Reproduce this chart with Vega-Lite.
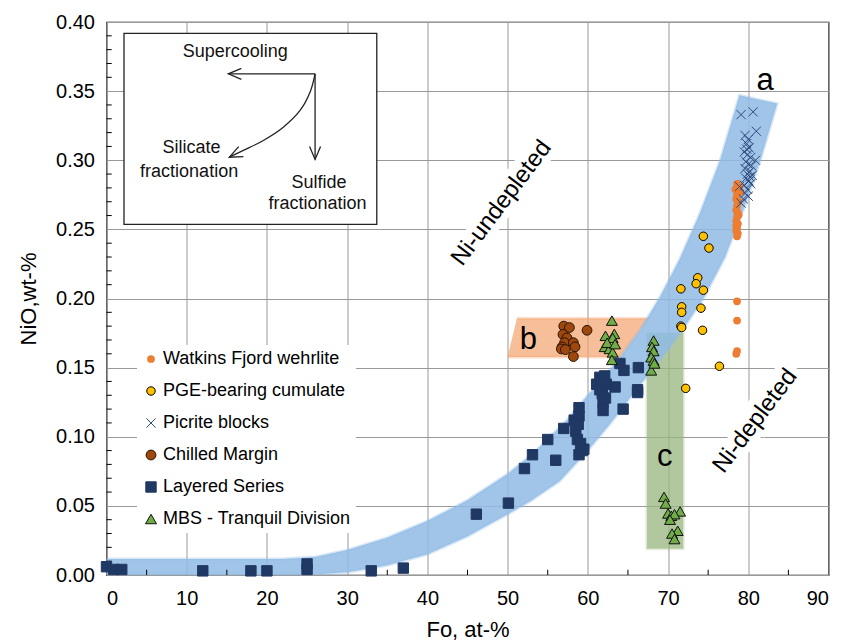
{
  "$schema": "https://vega.github.io/schema/vega-lite/v6.json",
  "width": 722,
  "height": 553,
  "autosize": {"type": "none"},
  "padding": {"left": 106.5, "top": 22, "right": 14.5, "bottom": 65},
  "background": "white",
  "config": {
    "view": {"stroke": "#000000", "strokeWidth": 1.2},
    "axis": {"domain": false, "ticks": false, "grid": true, "gridColor": "#999999", "gridWidth": 1,
      "labelFont": "Liberation Sans", "labelFontSize": 20, "labelColor": "#000000",
      "titleFont": "Liberation Sans", "titleFontSize": 22, "titleFontWeight": "normal", "titleColor": "#000000"},
    "axisX": {"labelPadding": 13, "titlePadding": 11},
    "axisY": {"labelPadding": 12, "titlePadding": 15},
    "legend": {"orient": "none", "legendX": 30.5, "legendY": 323, "fillColor": "white", "padding": 5,
      "labelFont": "Liberation Sans", "labelFontSize": 18, "labelColor": "#000000", "rowPadding": 14, "labelOffset": 3, "labelLimit": 0, "symbolStrokeWidth": 1}
  },
  "layer": [
    {
      "data": {"values": [
        {"i": 1, "x": 51.15, "y": 0.1855}, {"i": 2, "x": 67.5, "y": 0.1855},
        {"i": 3, "x": 64.0, "y": 0.1577}, {"i": 4, "x": 50.0, "y": 0.1577}
      ]},
      "mark": {"type": "line", "fill": "#f4a46e", "fillOpacity": 0.7, "stroke": "#f4a46e", "strokeOpacity": 0.35, "strokeWidth": 3},
      "encoding": {
        "x": {"field": "x", "type": "quantitative", "scale": {"domain": [0, 90], "nice": false}, "axis": {"values": [0,10,20,30,40,50,60,70,80,90]}, "title": "Fo, at-%"},
        "y": {"field": "y", "type": "quantitative", "scale": {"domain": [0, 0.4], "nice": false}, "axis": {"values": [0,0.05,0.1,0.15,0.2,0.25,0.3,0.35,0.4], "format": ".2f"}, "title": "NiO,wt-%"},
        "order": {"field": "i", "type": "quantitative"}
      }
    },
    {
      "data": {"values": [{"x": 67.35, "x2": 71.9, "y": 0.019, "y2": 0.175}]},
      "mark": {"type": "rect", "fill": "#98b67f", "opacity": 0.75, "stroke": "#98b67f", "strokeOpacity": 0.3, "strokeWidth": 3},
      "encoding": {
        "x": {"field": "x", "type": "quantitative"}, "x2": {"field": "x2"},
        "y": {"field": "y", "type": "quantitative"}, "y2": {"field": "y2"}
      }
    },
    {
      "data": {"values": [
        {"i": 1, "x": 0, "y": 0.0115}, {"i": 2, "x": 22, "y": 0.0115}, {"i": 3, "x": 26, "y": 0.013},
        {"i": 4, "x": 30, "y": 0.018}, {"i": 5, "x": 35, "y": 0.027}, {"i": 6, "x": 40, "y": 0.039},
        {"i": 7, "x": 45, "y": 0.054}, {"i": 8, "x": 50, "y": 0.073}, {"i": 9, "x": 53.2, "y": 0.088},
        {"i": 10, "x": 57.4, "y": 0.112}, {"i": 11, "x": 60, "y": 0.130}, {"i": 12, "x": 63.6, "y": 0.154},
        {"i": 13, "x": 66.5, "y": 0.177}, {"i": 14, "x": 69, "y": 0.201}, {"i": 15, "x": 71.5, "y": 0.229},
        {"i": 16, "x": 74, "y": 0.262}, {"i": 17, "x": 76.5, "y": 0.30}, {"i": 18, "x": 78.9, "y": 0.347},
        {"i": 19, "x": 83.6, "y": 0.341}, {"i": 20, "x": 81.5, "y": 0.30}, {"i": 21, "x": 79.5, "y": 0.266},
        {"i": 22, "x": 77.1, "y": 0.230}, {"i": 23, "x": 74.5, "y": 0.201}, {"i": 24, "x": 72, "y": 0.179},
        {"i": 25, "x": 70, "y": 0.163}, {"i": 26, "x": 67.8, "y": 0.147}, {"i": 27, "x": 65.5, "y": 0.130},
        {"i": 28, "x": 63.0, "y": 0.111}, {"i": 29, "x": 60, "y": 0.090}, {"i": 30, "x": 56.5, "y": 0.068},
        {"i": 31, "x": 53, "y": 0.054}, {"i": 32, "x": 50, "y": 0.044}, {"i": 33, "x": 45, "y": 0.028},
        {"i": 34, "x": 40, "y": 0.015}, {"i": 35, "x": 35, "y": 0.007}, {"i": 36, "x": 30, "y": 0.002},
        {"i": 37, "x": 25, "y": 0.0}, {"i": 38, "x": 0, "y": 0.0}
      ]},
      "mark": {"type": "line", "fill": "#8fbbe5", "fillOpacity": 0.85, "stroke": "#8fbbe5", "strokeOpacity": 0.35, "strokeWidth": 3, "clip": true},
      "encoding": {
        "x": {"field": "x", "type": "quantitative"},
        "y": {"field": "y", "type": "quantitative"},
        "order": {"field": "i", "type": "quantitative"}
      }
    },
    {
      "data": {"values": [{"v": 5}, {"v": 15}, {"v": 25}, {"v": 35}, {"v": 45}, {"v": 55}, {"v": 65}, {"v": 75}, {"v": 85}]},
      "mark": {"type": "rule", "color": "#000000", "strokeWidth": 1},
      "encoding": {"x": {"field": "v", "type": "quantitative"}, "y": {"datum": 0}, "y2": {"datum": 0.0038}}
    },
    {
      "data": {"values": [{"v": 0.01}, {"v": 0.02}, {"v": 0.03}, {"v": 0.04}, {"v": 0.06}, {"v": 0.07}, {"v": 0.08}, {"v": 0.09},
        {"v": 0.11}, {"v": 0.12}, {"v": 0.13}, {"v": 0.14}, {"v": 0.16}, {"v": 0.17}, {"v": 0.18}, {"v": 0.19},
        {"v": 0.21}, {"v": 0.22}, {"v": 0.23}, {"v": 0.24}, {"v": 0.26}, {"v": 0.27}, {"v": 0.28}, {"v": 0.29},
        {"v": 0.31}, {"v": 0.32}, {"v": 0.33}, {"v": 0.34}, {"v": 0.36}, {"v": 0.37}, {"v": 0.38}, {"v": 0.39}]},
      "mark": {"type": "rule", "color": "#000000", "strokeWidth": 1},
      "encoding": {"y": {"field": "v", "type": "quantitative"}, "x": {"datum": 0}, "x2": {"datum": 0.65}}
    },
    {
      "data": {"values": [{"x": 2.18, "x2": 33.69, "y": 0.2536, "y2": 0.3918}]},
      "mark": {"type": "rect", "fill": "white", "stroke": "#222222", "strokeWidth": 1.3},
      "encoding": {
        "x": {"field": "x", "type": "quantitative"}, "x2": {"field": "x2"},
        "y": {"field": "y", "type": "quantitative"}, "y2": {"field": "y2"}
      }
    },
    {
      "data": {"values": [
        {"seg": "left", "i": 1, "x": 26.0, "y": 0.3625}, {"seg": "left", "i": 2, "x": 15.19, "y": 0.3625},
        {"seg": "down", "i": 1, "x": 26.0, "y": 0.3625}, {"seg": "down", "i": 2, "x": 26.0, "y": 0.3006},
        {"seg": "curve", "i": 1, "x": 26.0, "y": 0.3625}, {"seg": "curve", "i": 2, "x": 25.37, "y": 0.3492},
        {"seg": "curve", "i": 3, "x": 24.13, "y": 0.3360}, {"seg": "curve", "i": 4, "x": 22.04, "y": 0.3239},
        {"seg": "curve", "i": 5, "x": 19.55, "y": 0.3143}, {"seg": "curve", "i": 6, "x": 17.06, "y": 0.3071},
        {"seg": "curve", "i": 7, "x": 15.31, "y": 0.3022}
      ]},
      "mark": {"type": "line", "color": "#222222", "strokeWidth": 1.3, "interpolate": "cardinal"},
      "encoding": {
        "x": {"field": "x", "type": "quantitative"},
        "y": {"field": "y", "type": "quantitative"},
        "detail": {"field": "seg"},
        "order": {"field": "i", "type": "quantitative"}
      }
    },
    {
      "data": {"values": [{"x": 15.19, "y": 0.3625}]},
      "mark": {"type": "point", "shape": "M2.6,-1.1L0,0L2.6,1.1", "size": 100, "filled": false, "stroke": "#222222", "strokeWidth": 1.3, "opacity": 1},
      "encoding": {"x": {"field": "x", "type": "quantitative"}, "y": {"field": "y", "type": "quantitative"}}
    },
    {
      "data": {"values": [{"x": 26.0, "y": 0.3006}]},
      "mark": {"type": "point", "shape": "M-1.1,-2.6L0,0L1.1,-2.6", "size": 100, "filled": false, "stroke": "#222222", "strokeWidth": 1.3, "opacity": 1},
      "encoding": {"x": {"field": "x", "type": "quantitative"}, "y": {"field": "y", "type": "quantitative"}}
    },
    {
      "data": {"values": [{"x": 15.31, "y": 0.3022}]},
      "mark": {"type": "point", "shape": "M2.82,-0.13L0,0L1.87,-2.12", "size": 100, "filled": false, "stroke": "#222222", "strokeWidth": 1.3, "opacity": 1},
      "encoding": {"x": {"field": "x", "type": "quantitative"}, "y": {"field": "y", "type": "quantitative"}}
    },
    {
      "data": {"values": [
        {"x": 16.06, "y": 0.3785, "t": "Supercooling"},
        {"x": 10.6, "y": 0.3085, "t": "Silicate"},
        {"x": 10.3, "y": 0.2915, "t": "fractionation"},
        {"x": 26.5, "y": 0.2836, "t": "Sulfide"},
        {"x": 26.3, "y": 0.2686, "t": "fractionation"}
      ]},
      "mark": {"type": "text", "font": "Liberation Sans", "fontSize": 18, "color": "#111111", "align": "center", "baseline": "middle"},
      "encoding": {"x": {"field": "x", "type": "quantitative"}, "y": {"field": "y", "type": "quantitative"}, "text": {"field": "t"}}
    },
    {
      "data": {"values": [
        {"x": 82.1, "y": 0.357, "t": "a"},
        {"x": 52.6, "y": 0.170, "t": "b"},
        {"x": 69.6, "y": 0.085, "t": "c"}
      ]},
      "mark": {"type": "text", "font": "Liberation Sans", "fontSize": 31, "color": "#000000", "align": "center", "baseline": "middle"},
      "encoding": {"x": {"field": "x", "type": "quantitative"}, "y": {"field": "y", "type": "quantitative"}, "text": {"field": "t"}}
    },
    {
      "data": {"values": [
        {"x": 49.25, "y": 0.269, "t": "Ni-undepleted"},
        {"x": 80.86, "y": 0.1114, "t": "Ni-depleted"}
      ]},
      "mark": {"type": "text", "font": "Liberation Sans", "fontSize": 24, "angle": -53, "align": "center", "baseline": "middle", "fill": "white", "stroke": "white", "strokeWidth": 14, "strokeJoin": "round"},
      "encoding": {"x": {"field": "x", "type": "quantitative"}, "y": {"field": "y", "type": "quantitative"}, "text": {"field": "t"}}
    },
    {
      "data": {"values": [
        {"x": 49.25, "y": 0.269, "t": "Ni-undepleted"},
        {"x": 80.86, "y": 0.1114, "t": "Ni-depleted"}
      ]},
      "mark": {"type": "text", "font": "Liberation Sans", "fontSize": 24, "angle": -53, "align": "center", "baseline": "middle", "color": "#000000"},
      "encoding": {"x": {"field": "x", "type": "quantitative"}, "y": {"field": "y", "type": "quantitative"}, "text": {"field": "t"}}
    },
    {
      "data": {"values": [
        {"g": "Layered Series", "x": 0, "y": 0.006}, {"g": "Layered Series", "x": 0.9, "y": 0.004},
        {"g": "Layered Series", "x": 1.9, "y": 0.004}, {"g": "Layered Series", "x": 12, "y": 0.003},
        {"g": "Layered Series", "x": 18, "y": 0.003}, {"g": "Layered Series", "x": 20, "y": 0.003},
        {"g": "Layered Series", "x": 25, "y": 0.008}, {"g": "Layered Series", "x": 25, "y": 0.004},
        {"g": "Layered Series", "x": 33, "y": 0.003}, {"g": "Layered Series", "x": 37, "y": 0.005},
        {"g": "Layered Series", "x": 46.1, "y": 0.044}, {"g": "Layered Series", "x": 50.1, "y": 0.052},
        {"g": "Layered Series", "x": 52.1, "y": 0.077}, {"g": "Layered Series", "x": 53.1, "y": 0.087},
        {"g": "Layered Series", "x": 55.0, "y": 0.098}, {"g": "Layered Series", "x": 56.0, "y": 0.083},
        {"g": "Layered Series", "x": 57.0, "y": 0.106}, {"g": "Layered Series", "x": 58.3, "y": 0.112},
        {"g": "Layered Series", "x": 58.9, "y": 0.121}, {"g": "Layered Series", "x": 58.9, "y": 0.115},
        {"g": "Layered Series", "x": 58.5, "y": 0.104}, {"g": "Layered Series", "x": 58.7, "y": 0.098},
        {"g": "Layered Series", "x": 59.1, "y": 0.095}, {"g": "Layered Series", "x": 59.3, "y": 0.090},
        {"g": "Layered Series", "x": 58.9, "y": 0.087}, {"g": "Layered Series", "x": 59.5, "y": 0.091},
        {"g": "Layered Series", "x": 58.8, "y": 0.109}, {"g": "Layered Series", "x": 61.5, "y": 0.143},
        {"g": "Layered Series", "x": 62.1, "y": 0.144}, {"g": "Layered Series", "x": 61.1, "y": 0.138},
        {"g": "Layered Series", "x": 61.7, "y": 0.137}, {"g": "Layered Series", "x": 62.3, "y": 0.138},
        {"g": "Layered Series", "x": 63.4, "y": 0.136}, {"g": "Layered Series", "x": 61.8, "y": 0.131},
        {"g": "Layered Series", "x": 61.9, "y": 0.125}, {"g": "Layered Series", "x": 61.9, "y": 0.119},
        {"g": "Layered Series", "x": 61.5, "y": 0.134}, {"g": "Layered Series", "x": 62.2, "y": 0.128},
        {"g": "Layered Series", "x": 64.4, "y": 0.120}, {"g": "Layered Series", "x": 64.0, "y": 0.153},
        {"g": "Layered Series", "x": 64.5, "y": 0.148}, {"g": "Layered Series", "x": 66.3, "y": 0.150},
        {"g": "Layered Series", "x": 66.2, "y": 0.134}, {"g": "Layered Series", "x": 66.2, "y": 0.132},
        {"g": "Chilled Margin", "x": 57.0, "y": 0.180}, {"g": "Chilled Margin", "x": 57.7, "y": 0.179},
        {"g": "Chilled Margin", "x": 56.9, "y": 0.174}, {"g": "Chilled Margin", "x": 57.4, "y": 0.1715},
        {"g": "Chilled Margin", "x": 57.1, "y": 0.168}, {"g": "Chilled Margin", "x": 56.8, "y": 0.165},
        {"g": "Chilled Margin", "x": 58.2, "y": 0.168}, {"g": "Chilled Margin", "x": 58.4, "y": 0.165},
        {"g": "Chilled Margin", "x": 56.7, "y": 0.1635}, {"g": "Chilled Margin", "x": 58.2, "y": 0.158},
        {"g": "Chilled Margin", "x": 59.9, "y": 0.177}, {"g": "Chilled Margin", "x": 57.2, "y": 0.163},
        {"g": "MBS - Tranquil Division", "x": 63.0, "y": 0.184}, {"g": "MBS - Tranquil Division", "x": 62.2, "y": 0.173},
        {"g": "MBS - Tranquil Division", "x": 63.3, "y": 0.1744}, {"g": "MBS - Tranquil Division", "x": 63.1, "y": 0.1715},
        {"g": "MBS - Tranquil Division", "x": 62.1, "y": 0.165}, {"g": "MBS - Tranquil Division", "x": 62.7, "y": 0.1635},
        {"g": "MBS - Tranquil Division", "x": 63.1, "y": 0.161}, {"g": "MBS - Tranquil Division", "x": 63.0, "y": 0.1556},
        {"g": "MBS - Tranquil Division", "x": 62.4, "y": 0.168}, {"g": "MBS - Tranquil Division", "x": 63.4, "y": 0.167},
        {"g": "MBS - Tranquil Division", "x": 68.2, "y": 0.1696}, {"g": "MBS - Tranquil Division", "x": 68.0, "y": 0.165},
        {"g": "MBS - Tranquil Division", "x": 68.2, "y": 0.162}, {"g": "MBS - Tranquil Division", "x": 67.9, "y": 0.1575},
        {"g": "MBS - Tranquil Division", "x": 68.2, "y": 0.155}, {"g": "MBS - Tranquil Division", "x": 67.9, "y": 0.148},
        {"g": "MBS - Tranquil Division", "x": 68.3, "y": 0.153}, {"g": "MBS - Tranquil Division", "x": 69.5, "y": 0.0565},
        {"g": "MBS - Tranquil Division", "x": 69.7, "y": 0.0517}, {"g": "MBS - Tranquil Division", "x": 70.0, "y": 0.0445},
        {"g": "MBS - Tranquil Division", "x": 70.4, "y": 0.0428}, {"g": "MBS - Tranquil Division", "x": 71.5, "y": 0.046},
        {"g": "MBS - Tranquil Division", "x": 70.8, "y": 0.044}, {"g": "MBS - Tranquil Division", "x": 71.2, "y": 0.032},
        {"g": "MBS - Tranquil Division", "x": 70.5, "y": 0.030}, {"g": "MBS - Tranquil Division", "x": 70.8, "y": 0.026},
        {"g": "MBS - Tranquil Division", "x": 70.25, "y": 0.040},
        {"g": "PGE-bearing cumulate", "x": 74.4, "y": 0.245}, {"g": "PGE-bearing cumulate", "x": 75.1, "y": 0.2365},
        {"g": "PGE-bearing cumulate", "x": 73.7, "y": 0.215}, {"g": "PGE-bearing cumulate", "x": 73.5, "y": 0.2107},
        {"g": "PGE-bearing cumulate", "x": 74.4, "y": 0.206}, {"g": "PGE-bearing cumulate", "x": 71.6, "y": 0.207},
        {"g": "PGE-bearing cumulate", "x": 71.7, "y": 0.194}, {"g": "PGE-bearing cumulate", "x": 71.7, "y": 0.190},
        {"g": "PGE-bearing cumulate", "x": 74.1, "y": 0.193}, {"g": "PGE-bearing cumulate", "x": 71.6, "y": 0.180},
        {"g": "PGE-bearing cumulate", "x": 71.7, "y": 0.179}, {"g": "PGE-bearing cumulate", "x": 74.3, "y": 0.177},
        {"g": "PGE-bearing cumulate", "x": 76.4, "y": 0.151}, {"g": "PGE-bearing cumulate", "x": 72.2, "y": 0.135},
        {"g": "Watkins Fjord wehrlite", "x": 78.6, "y": 0.283}, {"g": "Watkins Fjord wehrlite", "x": 78.9, "y": 0.281},
        {"g": "Watkins Fjord wehrlite", "x": 78.4, "y": 0.279}, {"g": "Watkins Fjord wehrlite", "x": 79.0, "y": 0.277},
        {"g": "Watkins Fjord wehrlite", "x": 78.6, "y": 0.275}, {"g": "Watkins Fjord wehrlite", "x": 78.5, "y": 0.272},
        {"g": "Watkins Fjord wehrlite", "x": 78.8, "y": 0.270}, {"g": "Watkins Fjord wehrlite", "x": 78.6, "y": 0.267},
        {"g": "Watkins Fjord wehrlite", "x": 78.5, "y": 0.264}, {"g": "Watkins Fjord wehrlite", "x": 78.7, "y": 0.262},
        {"g": "Watkins Fjord wehrlite", "x": 78.8, "y": 0.2605}, {"g": "Watkins Fjord wehrlite", "x": 78.6, "y": 0.259},
        {"g": "Watkins Fjord wehrlite", "x": 78.5, "y": 0.256}, {"g": "Watkins Fjord wehrlite", "x": 78.7, "y": 0.254},
        {"g": "Watkins Fjord wehrlite", "x": 78.5, "y": 0.2525}, {"g": "Watkins Fjord wehrlite", "x": 78.6, "y": 0.251},
        {"g": "Watkins Fjord wehrlite", "x": 78.5, "y": 0.249}, {"g": "Watkins Fjord wehrlite", "x": 78.7, "y": 0.247},
        {"g": "Watkins Fjord wehrlite", "x": 78.6, "y": 0.245}, {"g": "Watkins Fjord wehrlite", "x": 78.6, "y": 0.198},
        {"g": "Watkins Fjord wehrlite", "x": 78.6, "y": 0.184}, {"g": "Watkins Fjord wehrlite", "x": 78.6, "y": 0.162},
        {"g": "Watkins Fjord wehrlite", "x": 78.5, "y": 0.160},
        {"g": "Picrite blocks", "x": 79.1, "y": 0.333}, {"g": "Picrite blocks", "x": 80.6, "y": 0.335},
        {"g": "Picrite blocks", "x": 81.0, "y": 0.321}, {"g": "Picrite blocks", "x": 79.6, "y": 0.318},
        {"g": "Picrite blocks", "x": 79.8, "y": 0.312}, {"g": "Picrite blocks", "x": 80.1, "y": 0.309},
        {"g": "Picrite blocks", "x": 79.5, "y": 0.306}, {"g": "Picrite blocks", "x": 79.9, "y": 0.304},
        {"g": "Picrite blocks", "x": 80.3, "y": 0.302}, {"g": "Picrite blocks", "x": 80.9, "y": 0.300},
        {"g": "Picrite blocks", "x": 79.7, "y": 0.299}, {"g": "Picrite blocks", "x": 80.0, "y": 0.297},
        {"g": "Picrite blocks", "x": 80.4, "y": 0.296}, {"g": "Picrite blocks", "x": 79.6, "y": 0.294},
        {"g": "Picrite blocks", "x": 80.2, "y": 0.292}, {"g": "Picrite blocks", "x": 79.9, "y": 0.290},
        {"g": "Picrite blocks", "x": 80.5, "y": 0.289}, {"g": "Picrite blocks", "x": 79.7, "y": 0.287},
        {"g": "Picrite blocks", "x": 80.1, "y": 0.285}, {"g": "Picrite blocks", "x": 80.3, "y": 0.283},
        {"g": "Picrite blocks", "x": 79.5, "y": 0.282}, {"g": "Picrite blocks", "x": 78.9, "y": 0.281},
        {"g": "Picrite blocks", "x": 79.9, "y": 0.279}, {"g": "Picrite blocks", "x": 79.6, "y": 0.276},
        {"g": "Picrite blocks", "x": 80.0, "y": 0.274}, {"g": "Picrite blocks", "x": 79.4, "y": 0.272},
        {"g": "Picrite blocks", "x": 79.1, "y": 0.269}, {"g": "Picrite blocks", "x": 80.2, "y": 0.288},
        {"g": "Picrite blocks", "x": 79.8, "y": 0.308}, {"g": "Picrite blocks", "x": 80.0, "y": 0.315}
      ]},
      "mark": {"type": "point", "filled": true, "opacity": 1, "strokeWidth": 1},
      "encoding": {
        "x": {"field": "x", "type": "quantitative"},
        "y": {"field": "y", "type": "quantitative"},
        "fill": {"field": "g", "type": "nominal",
          "scale": {"domain": ["Watkins Fjord wehrlite", "PGE-bearing cumulate", "Picrite blocks", "Chilled Margin", "Layered Series", "MBS - Tranquil Division"],
            "range": ["#ED7D31", "#FFC000", "transparent", "#9E480E", "#203864", "#70AD47"]},
          "legend": {"title": null}},
        "stroke": {"field": "g", "type": "nominal",
          "scale": {"domain": ["Watkins Fjord wehrlite", "PGE-bearing cumulate", "Picrite blocks", "Chilled Margin", "Layered Series", "MBS - Tranquil Division"],
            "range": ["transparent", "#000000", "#2F4B7C", "#2a1405", "#203864", "#111111"]},
          "legend": {"title": null}},
        "shape": {"field": "g", "type": "nominal",
          "scale": {"domain": ["Watkins Fjord wehrlite", "PGE-bearing cumulate", "Picrite blocks", "Chilled Margin", "Layered Series", "MBS - Tranquil Division"],
            "range": ["circle", "circle", "M-1,-1L1,1M-1,1L1,-1", "circle", "square", "triangle-up"]},
          "legend": {"title": null}},
        "size": {"field": "g", "type": "nominal",
          "scale": {"domain": ["Watkins Fjord wehrlite", "PGE-bearing cumulate", "Picrite blocks", "Chilled Margin", "Layered Series", "MBS - Tranquil Division"],
            "range": [60, 120, 64, 125, 150, 135]},
          "legend": {"title": null}}
      }
    }
  ]
}
